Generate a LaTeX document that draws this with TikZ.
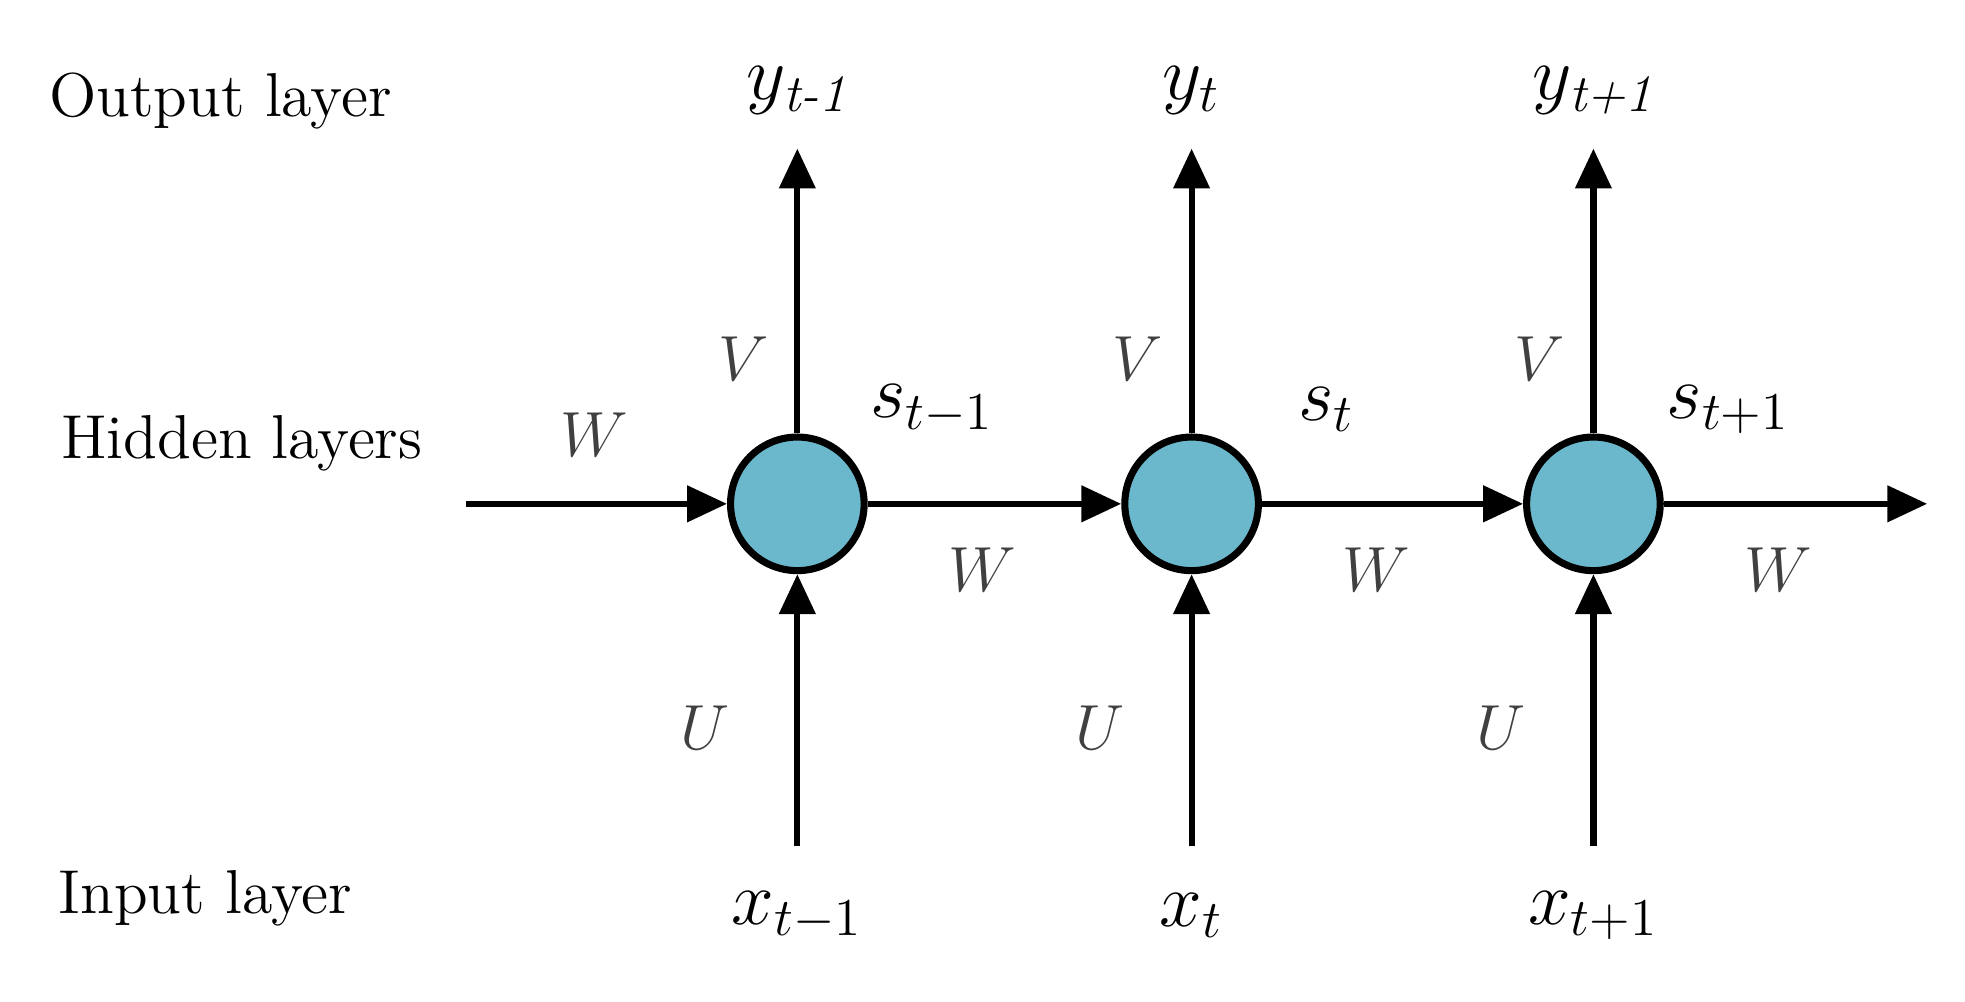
\documentclass[tikz,border=0pt]{standalone}
\usepackage{amsmath}
\usetikzlibrary{arrows.meta}
\begin{document}
\begin{tikzpicture}[x=0.01cm,y=-0.01cm,
  cell/.style={circle,draw,line width=1.6pt,fill=cellc,minimum size=1.06cm,inner sep=0pt},
  arr/.style={line width=1.4pt,-{Triangle[length=9pt,width=8pt]}},
  lay/.style={font=\fontsize{14}{16}\selectfont},
  lab/.style={font=\fontsize{17}{19}\selectfont},
  wt/.style={font=\fontsize{15}{17}\selectfont, text=black!75}]
\definecolor{cellc}{HTML}{6BB8CC}
\useasboundingbox (0,0) rectangle (1560,795);
\node[lay] (ol) at (175,80) {Output layer};
\node[lay] (hl) at (192,352) {Hidden layers};
\node[lay] (il) at (163,713) {Input layer};
\coordinate (start) at (370,400);
\coordinate (end) at (1530,400);
\foreach \i/\x/\ys/\xs/\ss in {1/633/{y_{\text{\itshape t-1}}}/{x_{t-1}}/{s_{t-1}},2/946/{y_{t}}/{x_{t}}/{s_{t}},3/1265/{y_{\text{\itshape t+1}}}/{x_{t+1}}/{s_{t+1}}}{
  \node[cell] (c\i) at (\x,400) {};
  \coordinate (top\i) at (\x,118);
  \coordinate (bot\i) at (\x,672);
  \node[lab] (y\i) at (\x,72) {$\ys$};
  \node[lab] (x\i) at (\x,727) {$\xs$};
  \node[lab] (s\i) at (\x+107,325) {$\ss$};
  \node[wt] (v\i) at (\x-43,285) {$V$};
  \node[wt] (u\i) at (\x-73,578) {$U$};
  \node[wt] (w\i) at (\x+147,452) {$W$};
  \draw[arr] (c\i) -- (top\i);
  \draw[arr] (bot\i) -- (c\i);
}
\node[wt] (w0) at (472,345) {$W$};
\draw[arr] (start) -- (c1);
\draw[arr] (c1) -- (c2);
\draw[arr] (c2) -- (c3);
\draw[arr] (c3) -- (end);
\end{tikzpicture}
\end{document}
